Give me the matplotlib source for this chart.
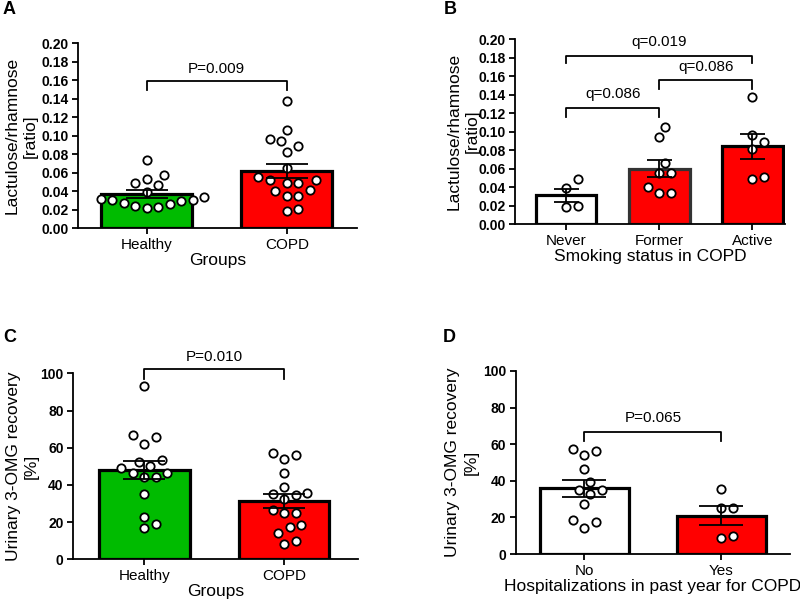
import numpy as np
import matplotlib
matplotlib.use('Agg')
import matplotlib.pyplot as plt

plt.rcParams['font.family'] = ['Liberation Sans', 'DejaVu Sans']

# ---- data ----
# A: lactulose/rhamnose ratio, Healthy vs COPD
a_groups = ['Healthy', 'COPD']
a_healthy = [0.0738, 0.0576, 0.053, 0.0486, 0.047, 0.0396, 0.0313, 0.027,
             0.026, 0.029, 0.0234, 0.0216, 0.031, 0.0335, 0.024, 0.031]
a_copd = [0.138, 0.106, 0.0965, 0.094, 0.0885, 0.0825, 0.0655, 0.052, 0.049,
          0.049, 0.0555, 0.052, 0.0415, 0.040, 0.035, 0.035, 0.0209, 0.0187]
a_mean = [0.037, 0.062]
a_sem = [0.0045, 0.008]

# B: lactulose/rhamnose by smoking status
b_groups = ['Never', 'Former', 'Active']
b_never = [0.0487, 0.0387, 0.0198, 0.0181]
b_former = [0.1054, 0.0939, 0.0657, 0.0549, 0.0549, 0.0339, 0.0339, 0.040]
b_active = [0.1377, 0.0966, 0.0883, 0.0815, 0.0511, 0.0487]
b_mean = [0.031, 0.060, 0.084]
b_sem = [0.0073, 0.0095, 0.0134]

# C: urinary 3-OMG recovery, Healthy vs COPD
c_groups = ['Healthy', 'COPD']
c_healthy = [93.2, 66.7, 62.0, 65.6, 53.4, 52.3, 50.3, 49.3, 46.2, 44.4, 44.4,
             46.2, 34.9, 22.9, 19.0, 16.8]
c_copd = [56.0, 53.7, 57.0, 46.2, 38.7, 34.4, 35.5, 34.9, 32.3, 24.7, 24.7,
          26.5, 17.2, 18.4, 14.0, 9.7, 8.1]
c_mean = [47.8, 31.3]
c_sem = [4.8, 3.9]

# D: urinary 3-OMG recovery by hospitalization
d_groups = ['No', 'Yes']
d_no = [57.2, 54.1, 56.3, 46.4, 39.2, 35.0, 35.0, 32.8, 27.1, 17.7, 18.6, 14.0]
d_yes = [35.7, 25.0, 25.0, 10.0, 8.6]
d_mean = [35.9, 20.9]
d_sem = [4.6, 5.2]

GREEN = '#00BB00'
RED = '#FF0000'


def swarm(ax, vals, xc, d=11.5):
    # simple beeswarm in pixel space
    vals = np.asarray(vals, float)
    pts = ax.transData.transform(np.column_stack([np.full(len(vals), xc), vals]))
    ys = pts[:, 1]
    x0 = pts[0, 0]
    cand = [0.0]
    for k in range(1, 30):
        cand += [k * d / 2, -k * d / 2]
    placed = []
    offs = np.zeros(len(vals))
    for i in np.argsort(ys):
        for c in cand:
            if all((c - px) ** 2 + (ys[i] - py) ** 2 >= (d * 0.98) ** 2 for px, py in placed):
                offs[i] = c
                placed.append((c, ys[i]))
                break
    xs = ax.transData.inverted().transform(np.column_stack([x0 + offs, ys]))[:, 0]
    return xs


def panel(ax, groups, series, means, sems, colors, edges, ylim, yticks, fmt,
          xlim, xlabel, ylabel, ylab_x, capsize):
    x = np.arange(len(groups))
    ax.set_xlim(*xlim)
    ax.set_ylim(*ylim)
    ax.bar(x, means, width=0.65, color=colors, edgecolor=edges, linewidth=2.3, zorder=1)
    for xi, vals in zip(x, series):
        xs = swarm(ax, vals, xi)
        ax.plot(xs, vals, 'o', ms=6, mfc='white', mec='black', mew=1.3,
                zorder=3, clip_on=False)
    ax.errorbar(x, means, yerr=sems, fmt='none', ecolor='black', elinewidth=1.3,
                capsize=capsize, capthick=1.3, zorder=4)
    for s in ['top', 'right']:
        ax.spines[s].set_visible(False)
    for s in ['left', 'bottom']:
        ax.spines[s].set_linewidth(1.3)
    ax.set_yticks(yticks)
    ax.set_yticklabels([fmt.format(v) for v in yticks], fontweight='bold', fontsize=10)
    ax.set_xticks(x)
    ax.set_xticklabels(groups, fontsize=11)
    ax.tick_params(axis='both', length=4, width=1.3, pad=3)
    ax.set_xlabel(xlabel, fontsize=12.5, labelpad=1)
    ax.set_ylabel(ylabel, fontsize=12.5, linespacing=1.3)
    ax.yaxis.set_label_coords(ylab_x, 0.5)


def bracket(ax, x1, x2, y, h, text, dy=9):
    ax.plot([x1, x1, x2, x2], [y - h, y, y, y - h], color='black', lw=1.3,
            clip_on=False, zorder=5)
    ax.annotate(text, xy=((x1 + x2) / 2, y), xytext=(0, dy), textcoords='offset points',
                ha='center', va='center', fontsize=11, annotation_clip=False)


fig = plt.figure(figsize=(8, 6.04), dpi=100)
W, H = 800, 604


def rect(l, t, r, b):
    return [l / W, 1 - b / H, (r - l) / W, (b - t) / H]


axA = fig.add_axes(rect(78, 43.3, 357, 228.3))
axB = fig.add_axes(rect(515, 39.3, 785, 224))
axC = fig.add_axes(rect(73.3, 373.3, 358, 559.3))
axD = fig.add_axes(rect(515.7, 371, 790, 554))

ratio_ticks = np.round(np.arange(0, 0.201, 0.02), 2)
pct_ticks = np.arange(0, 101, 20)

panel(axA, a_groups, [a_healthy, a_copd], a_mean, a_sem, [GREEN, RED],
      ['black', 'black'], (0, 0.2), ratio_ticks, '{:.2f}', (-0.49, 1.5),
      'Groups', 'Lactulose/rhamnose\n[ratio]', -0.143, 15)
bracket(axA, 0, 1, 0.159, 0.0095, 'P=0.009')

panel(axB, b_groups, [b_never, b_former, b_active], b_mean, b_sem,
      ['white', RED, RED], ['black', '#333333', 'black'], (0, 0.2), ratio_ticks,
      '{:.2f}', (-0.55, 2.35), 'Smoking status in COPD',
      'Lactulose/rhamnose\n[ratio]', -0.13, 9)
bracket(axB, 0, 2, 0.182, 0.008, 'q=0.019', dy=10)
bracket(axB, 1, 2, 0.156, 0.01, 'q=0.086')
bracket(axB, 0, 1, 0.126, 0.01, 'q=0.086', dy=10)

panel(axC, c_groups, [c_healthy, c_copd], c_mean, c_sem, [GREEN, RED],
      ['black', 'black'], (0, 100), pct_ticks, '{:d}', (-0.51, 1.53),
      'Groups', 'Urinary 3-OMG recovery\n[%]', -0.12, 15)
bracket(axC, 0, 1, 102.2, 5.3, 'P=0.010')

panel(axD, d_groups, [d_no, d_yes], d_mean, d_sem, ['white', RED],
      ['black', 'black'], (0, 100), pct_ticks, '{:d}', (-0.5, 1.5),
      'Hospitalizations in past year for COPD', 'Urinary 3-OMG recovery\n[%]',
      -0.134, 16)
bracket(axD, 0, 1, 66.5, 4.6, 'P=0.065', dy=10)

for lab, px, py in [('A', 3, 10), ('B', 444, 10), ('C', 3, 338), ('D', 443, 338)]:
    fig.text(px / W, 1 - py / H, lab, fontsize=13, fontweight='bold', ha='left', va='center')

fig.savefig('out.png', dpi=100)
